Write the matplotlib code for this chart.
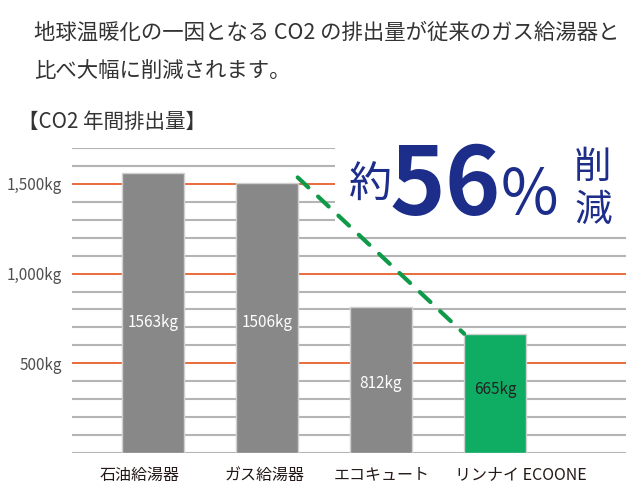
import numpy as np
import matplotlib.pyplot as plt
from matplotlib.patches import Rectangle
from matplotlib.transforms import ScaledTranslation

plt.rcParams['font.family'] = ['Noto Sans CJK JP', 'DejaVu Sans']

# ----- Data -----
categories = ["石油給湯器", "ガス給湯器", "エコキュート", "リンナイ ECOONE"]
emissions = [1563, 1506, 812, 665]
value_labels = ["1563kg", "1506kg", "812kg", "665kg"]
ytick_values = [500, 1000, 1500]
ytick_labels = ["500kg", "1,000kg", "1,500kg"]

bar_colors = ["#888888", "#888888", "#888888", "#0fad64"]
label_colors = ["white", "white", "white", "#222222"]
label_y = [730, 730, 385, 355]
xlabel_shift = [-13, -2, 1, 26]  # pixels

fig = plt.figure(figsize=(6.4, 5.01), dpi=100)
W, H = 640, 501
ax = fig.add_axes([72 / W, (501 - 453) / H, (626 - 72) / W, (453 - 148) / H])

x = np.arange(len(categories))

# grid lines, every 100kg, orange at 500 steps
for v in range(0, 1701, 100):
    if v % 500 == 0 and v > 0:
        ax.axhline(v, color="#e8602c", lw=1.3, zorder=1)
    else:
        ax.axhline(v, color="#b4b4b4", lw=1.5, zorder=1)

ax.bar(x, emissions, width=0.54, color=bar_colors, edgecolor="#d0d0d0",
       linewidth=1, zorder=3)

for i in range(len(x)):
    ax.text(x[i], label_y[i], value_labels[i], ha="center", va="center",
            fontsize=11, color=label_colors[i], zorder=5)

# category labels under the bars
for i in range(len(x)):
    off = ScaledTranslation(xlabel_shift[i] / 100, -22 / 100, fig.dpi_scale_trans)
    ax.text(x[i], 0, categories[i], ha="center", va="center", fontsize=11.5,
            color="#231815", transform=ax.get_xaxis_transform() + off)

# white box behind the big text
ax.add_patch(Rectangle((0.475, 0.735), 0.6, 0.35, transform=ax.transAxes,
                       facecolor="white", edgecolor="none", zorder=2,
                       clip_on=False))

# dashed drop line
ax.plot([x[1] + 0.27, x[3] - 0.27], [emissions[1] + 30, emissions[3]],
        color="#0e9a48", lw=3, ls=(0, (3.5, 3.2)), solid_capstyle="round",
        dash_capstyle="round", zorder=4)

ax.set_xlim(-0.71, 4.15)
ax.set_ylim(0, 1700)
ax.set_yticks(ytick_values)
ax.set_yticklabels(ytick_labels, fontsize=11, color="#505050")
ax.set_xticks([])
ax.tick_params(length=0)
ax.tick_params(axis="y", pad=7)
for s in ax.spines.values():
    s.set_visible(False)

# headings
fig.text(34 / W, 1 - 33 / H, "地球温暖化の一因となる CO2 の排出量が従来のガス給湯器と",
         fontsize=15.4, color="#333333", va="center")
fig.text(34 / W, 1 - 72 / H, "比べ大幅に削減されます。",
         fontsize=15.4, color="#333333", va="center")
fig.text(18 / W, 1 - 122 / H, "【CO2 年間排出量】",
         fontsize=14.8, color="#333333", va="center")

navy = "#1d2d8a"
fig.text(370 / W, 1 - 186 / H, "約", fontsize=31, color=navy,
         ha="center", va="center")
fig.text(445 / W, 1 - 187 / H, "56", fontsize=68, color=navy,
         ha="center", va="center", fontweight="bold")
fig.text(529 / W, 1 - 196 / H, "%", fontsize=45, color=navy,
         ha="center", va="center")
fig.text(593 / W, 1 - 167 / H, "削", fontsize=27, color=navy,
         ha="center", va="center")
fig.text(593 / W, 1 - 210 / H, "減", fontsize=27, color=navy,
         ha="center", va="center")

fig.savefig("out.png", dpi=100)
